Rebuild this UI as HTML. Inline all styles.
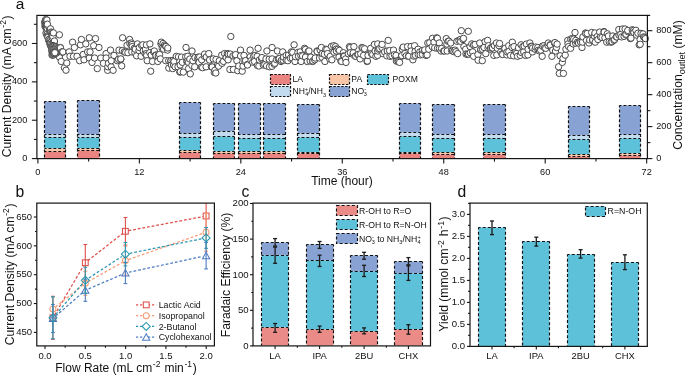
<!DOCTYPE html>
<html><head><meta charset="utf-8"><style>
html,body{margin:0;padding:0;background:#fff;}
svg{display:block;font-family:"Liberation Sans",sans-serif;will-change:transform;}
</style></head><body>
<svg width="685" height="375" viewBox="0 0 685 375">
<g fill="#fff" stroke="#484848" stroke-width="1.0">
<circle cx="44.9" cy="22.1" r="3.2"/>
<circle cx="44.9" cy="23.0" r="3.2"/>
<circle cx="45.0" cy="26.6" r="3.2"/>
<circle cx="45.1" cy="21.2" r="3.2"/>
<circle cx="45.2" cy="24.7" r="3.2"/>
<circle cx="45.5" cy="25.9" r="3.2"/>
<circle cx="45.7" cy="19.5" r="3.2"/>
<circle cx="45.9" cy="20.7" r="3.2"/>
<circle cx="46.0" cy="33.1" r="3.2"/>
<circle cx="46.3" cy="21.9" r="3.2"/>
<circle cx="46.3" cy="21.4" r="3.2"/>
<circle cx="46.4" cy="25.3" r="3.2"/>
<circle cx="46.5" cy="24.5" r="3.2"/>
<circle cx="46.5" cy="23.1" r="3.2"/>
<circle cx="46.6" cy="27.4" r="3.2"/>
<circle cx="46.9" cy="20.0" r="3.2"/>
<circle cx="46.9" cy="35.0" r="3.2"/>
<circle cx="47.0" cy="30.3" r="3.2"/>
<circle cx="47.0" cy="30.8" r="3.2"/>
<circle cx="47.1" cy="27.8" r="3.2"/>
<circle cx="47.2" cy="28.7" r="3.2"/>
<circle cx="47.2" cy="28.4" r="3.2"/>
<circle cx="47.3" cy="25.3" r="3.2"/>
<circle cx="47.3" cy="35.9" r="3.2"/>
<circle cx="47.4" cy="24.2" r="3.2"/>
<circle cx="47.9" cy="36.9" r="3.2"/>
<circle cx="47.9" cy="37.4" r="3.2"/>
<circle cx="48.7" cy="39.9" r="3.2"/>
<circle cx="48.8" cy="40.4" r="3.2"/>
<circle cx="48.9" cy="39.4" r="3.2"/>
<circle cx="49.5" cy="40.8" r="3.2"/>
<circle cx="49.7" cy="30.1" r="3.2"/>
<circle cx="49.9" cy="44.0" r="3.2"/>
<circle cx="50.1" cy="42.5" r="3.2"/>
<circle cx="50.2" cy="31.5" r="3.2"/>
<circle cx="50.2" cy="29.7" r="3.2"/>
<circle cx="50.5" cy="42.3" r="3.2"/>
<circle cx="50.5" cy="28.8" r="3.2"/>
<circle cx="50.6" cy="45.9" r="3.2"/>
<circle cx="50.7" cy="44.1" r="3.2"/>
<circle cx="51.0" cy="38.7" r="3.2"/>
<circle cx="51.0" cy="32.1" r="3.2"/>
<circle cx="51.6" cy="35.3" r="3.2"/>
<circle cx="51.6" cy="45.1" r="3.2"/>
<circle cx="51.7" cy="46.5" r="3.2"/>
<circle cx="52.0" cy="55.0" r="3.2"/>
<circle cx="52.0" cy="32.9" r="3.2"/>
<circle cx="52.1" cy="33.8" r="3.2"/>
<circle cx="52.1" cy="48.4" r="3.2"/>
<circle cx="52.3" cy="38.0" r="3.2"/>
<circle cx="52.3" cy="52.8" r="3.2"/>
<circle cx="52.6" cy="34.3" r="3.2"/>
<circle cx="52.7" cy="47.0" r="3.2"/>
<circle cx="52.8" cy="51.1" r="3.2"/>
<circle cx="52.8" cy="49.6" r="3.2"/>
<circle cx="52.9" cy="36.7" r="3.2"/>
<circle cx="53.1" cy="55.1" r="3.2"/>
<circle cx="53.4" cy="32.9" r="3.2"/>
<circle cx="53.5" cy="53.2" r="3.2"/>
<circle cx="53.5" cy="54.8" r="3.2"/>
<circle cx="53.7" cy="53.8" r="3.2"/>
<circle cx="54.0" cy="41.7" r="3.2"/>
<circle cx="54.1" cy="43.2" r="3.2"/>
<circle cx="54.2" cy="51.7" r="3.2"/>
<circle cx="54.3" cy="44.7" r="3.2"/>
<circle cx="54.4" cy="48.3" r="3.2"/>
<circle cx="54.4" cy="41.0" r="3.2"/>
<circle cx="55.4" cy="54.0" r="3.2"/>
<circle cx="55.7" cy="50.6" r="3.2"/>
<circle cx="56.5" cy="49.4" r="3.2"/>
<circle cx="56.6" cy="47.5" r="3.2"/>
<circle cx="56.6" cy="51.5" r="3.2"/>
<circle cx="59.4" cy="34.8" r="3.2"/>
<circle cx="59.4" cy="57.1" r="3.2"/>
<circle cx="60.3" cy="47.5" r="3.2"/>
<circle cx="60.4" cy="47.8" r="3.2"/>
<circle cx="61.2" cy="61.4" r="3.2"/>
<circle cx="62.0" cy="51.8" r="3.2"/>
<circle cx="62.4" cy="52.2" r="3.2"/>
<circle cx="62.9" cy="51.9" r="3.2"/>
<circle cx="64.4" cy="67.8" r="3.2"/>
<circle cx="66.0" cy="70.2" r="3.2"/>
<circle cx="66.8" cy="63.0" r="3.2"/>
<circle cx="69.1" cy="51.9" r="3.2"/>
<circle cx="70.0" cy="56.3" r="3.2"/>
<circle cx="72.6" cy="42.2" r="3.2"/>
<circle cx="73.5" cy="56.3" r="3.2"/>
<circle cx="74.4" cy="47.5" r="3.2"/>
<circle cx="77.0" cy="56.3" r="3.2"/>
<circle cx="79.6" cy="60.7" r="3.2"/>
<circle cx="80.5" cy="44.8" r="3.2"/>
<circle cx="81.4" cy="39.5" r="3.2"/>
<circle cx="83.2" cy="54.5" r="3.2"/>
<circle cx="84.0" cy="59.8" r="3.2"/>
<circle cx="85.8" cy="43.9" r="3.2"/>
<circle cx="87.6" cy="51.9" r="3.2"/>
<circle cx="89.3" cy="37.8" r="3.2"/>
<circle cx="89.3" cy="58.0" r="3.2"/>
<circle cx="90.0" cy="51.9" r="3.2"/>
<circle cx="92.0" cy="62.4" r="3.2"/>
<circle cx="93.7" cy="45.7" r="3.2"/>
<circle cx="94.6" cy="58.0" r="3.2"/>
<circle cx="95.5" cy="38.6" r="3.2"/>
<circle cx="97.3" cy="68.6" r="3.2"/>
<circle cx="99.0" cy="47.5" r="3.2"/>
<circle cx="100.8" cy="58.0" r="3.2"/>
<circle cx="103.4" cy="63.3" r="3.2"/>
<circle cx="106.1" cy="53.6" r="3.2"/>
<circle cx="106.1" cy="58.0" r="3.2"/>
<circle cx="107.6" cy="70.3" r="3.2"/>
<circle cx="107.8" cy="66.8" r="3.2"/>
<circle cx="108.5" cy="63.3" r="3.2"/>
<circle cx="110.5" cy="50.1" r="3.2"/>
<circle cx="111.1" cy="66.8" r="3.2"/>
<circle cx="111.3" cy="60.7" r="3.2"/>
<circle cx="113.1" cy="70.3" r="3.2"/>
<circle cx="114.0" cy="55.4" r="3.2"/>
<circle cx="117.3" cy="60.7" r="3.2"/>
<circle cx="118.5" cy="59.3" r="3.2"/>
<circle cx="119.0" cy="50.1" r="3.2"/>
<circle cx="120.8" cy="59.4" r="3.2"/>
<circle cx="120.8" cy="58.9" r="3.2"/>
<circle cx="121.7" cy="65.9" r="3.2"/>
<circle cx="122.3" cy="50.6" r="3.2"/>
<circle cx="122.6" cy="37.8" r="3.2"/>
<circle cx="124.3" cy="51.9" r="3.2"/>
<circle cx="125.6" cy="52.4" r="3.2"/>
<circle cx="127.0" cy="45.3" r="3.2"/>
<circle cx="127.9" cy="52.7" r="3.2"/>
<circle cx="129.6" cy="39.5" r="3.2"/>
<circle cx="129.9" cy="43.5" r="3.2"/>
<circle cx="131.4" cy="43.0" r="3.2"/>
<circle cx="131.8" cy="51.9" r="3.2"/>
<circle cx="132.0" cy="44.5" r="3.2"/>
<circle cx="132.3" cy="46.6" r="3.2"/>
<circle cx="134.3" cy="48.3" r="3.2"/>
<circle cx="134.9" cy="52.7" r="3.2"/>
<circle cx="135.3" cy="49.2" r="3.2"/>
<circle cx="136.6" cy="55.8" r="3.2"/>
<circle cx="137.5" cy="43.9" r="3.2"/>
<circle cx="139.0" cy="50.6" r="3.2"/>
<circle cx="139.3" cy="47.5" r="3.2"/>
<circle cx="141.1" cy="56.3" r="3.2"/>
<circle cx="141.6" cy="45.4" r="3.2"/>
<circle cx="142.8" cy="44.8" r="3.2"/>
<circle cx="143.2" cy="51.0" r="3.2"/>
<circle cx="145.0" cy="53.5" r="3.2"/>
<circle cx="145.5" cy="49.2" r="3.2"/>
<circle cx="146.3" cy="53.6" r="3.2"/>
<circle cx="146.4" cy="44.9" r="3.2"/>
<circle cx="146.7" cy="55.4" r="3.2"/>
<circle cx="147.2" cy="60.7" r="3.2"/>
<circle cx="149.8" cy="52.6" r="3.2"/>
<circle cx="149.9" cy="43.9" r="3.2"/>
<circle cx="150.7" cy="71.2" r="3.2"/>
<circle cx="151.2" cy="55.1" r="3.2"/>
<circle cx="152.5" cy="61.5" r="3.2"/>
<circle cx="153.7" cy="51.9" r="3.2"/>
<circle cx="154.3" cy="51.0" r="3.2"/>
<circle cx="155.8" cy="55.0" r="3.2"/>
<circle cx="156.0" cy="55.4" r="3.2"/>
<circle cx="157.8" cy="61.5" r="3.2"/>
<circle cx="158.3" cy="55.8" r="3.2"/>
<circle cx="159.5" cy="54.5" r="3.2"/>
<circle cx="160.4" cy="58.9" r="3.2"/>
<circle cx="161.0" cy="44.0" r="3.2"/>
<circle cx="161.3" cy="42.2" r="3.2"/>
<circle cx="162.2" cy="48.3" r="3.2"/>
<circle cx="163.0" cy="43.5" r="3.2"/>
<circle cx="163.6" cy="49.1" r="3.2"/>
<circle cx="164.5" cy="45.0" r="3.2"/>
<circle cx="165.4" cy="46.0" r="3.2"/>
<circle cx="165.7" cy="60.7" r="3.2"/>
<circle cx="166.0" cy="46.5" r="3.2"/>
<circle cx="167.5" cy="50.1" r="3.2"/>
<circle cx="167.8" cy="48.0" r="3.2"/>
<circle cx="168.7" cy="60.7" r="3.2"/>
<circle cx="168.8" cy="68.1" r="3.2"/>
<circle cx="170.7" cy="61.2" r="3.2"/>
<circle cx="171.0" cy="60.7" r="3.2"/>
<circle cx="171.4" cy="65.0" r="3.2"/>
<circle cx="172.7" cy="68.6" r="3.2"/>
<circle cx="173.1" cy="60.4" r="3.2"/>
<circle cx="173.6" cy="65.0" r="3.2"/>
<circle cx="174.0" cy="61.5" r="3.2"/>
<circle cx="175.1" cy="66.8" r="3.2"/>
<circle cx="176.3" cy="56.3" r="3.2"/>
<circle cx="178.0" cy="66.8" r="3.2"/>
<circle cx="178.5" cy="56.8" r="3.2"/>
<circle cx="179.8" cy="61.5" r="3.2"/>
<circle cx="179.8" cy="72.1" r="3.2"/>
<circle cx="180.2" cy="65.0" r="3.2"/>
<circle cx="180.4" cy="71.6" r="3.2"/>
<circle cx="181.5" cy="57.1" r="3.2"/>
<circle cx="182.3" cy="62.3" r="3.2"/>
<circle cx="183.3" cy="72.1" r="3.2"/>
<circle cx="185.7" cy="56.8" r="3.2"/>
<circle cx="186.0" cy="47.5" r="3.2"/>
<circle cx="186.8" cy="61.5" r="3.2"/>
<circle cx="187.3" cy="61.3" r="3.2"/>
<circle cx="187.7" cy="56.3" r="3.2"/>
<circle cx="188.5" cy="62.4" r="3.2"/>
<circle cx="188.6" cy="68.6" r="3.2"/>
<circle cx="189.8" cy="59.0" r="3.2"/>
<circle cx="190.3" cy="73.9" r="3.2"/>
<circle cx="191.9" cy="65.4" r="3.2"/>
<circle cx="192.0" cy="51.0" r="3.2"/>
<circle cx="192.9" cy="60.7" r="3.2"/>
<circle cx="194.7" cy="66.8" r="3.2"/>
<circle cx="195.0" cy="57.6" r="3.2"/>
<circle cx="197.8" cy="58.8" r="3.2"/>
<circle cx="198.2" cy="57.1" r="3.2"/>
<circle cx="199.1" cy="62.4" r="3.2"/>
<circle cx="199.7" cy="57.0" r="3.2"/>
<circle cx="201.4" cy="67.2" r="3.2"/>
<circle cx="201.7" cy="59.8" r="3.2"/>
<circle cx="202.6" cy="67.7" r="3.2"/>
<circle cx="204.4" cy="56.3" r="3.2"/>
<circle cx="204.6" cy="54.1" r="3.2"/>
<circle cx="206.1" cy="66.8" r="3.2"/>
<circle cx="206.3" cy="56.9" r="3.2"/>
<circle cx="208.8" cy="53.6" r="3.2"/>
<circle cx="209.6" cy="59.8" r="3.2"/>
<circle cx="209.6" cy="60.0" r="3.2"/>
<circle cx="211.4" cy="66.8" r="3.2"/>
<circle cx="212.2" cy="67.0" r="3.2"/>
<circle cx="213.2" cy="58.9" r="3.2"/>
<circle cx="214.3" cy="72.5" r="3.2"/>
<circle cx="214.9" cy="70.3" r="3.2"/>
<circle cx="215.8" cy="73.0" r="3.2"/>
<circle cx="216.0" cy="59.4" r="3.2"/>
<circle cx="217.6" cy="65.0" r="3.2"/>
<circle cx="218.6" cy="66.1" r="3.2"/>
<circle cx="219.3" cy="60.7" r="3.2"/>
<circle cx="221.7" cy="55.2" r="3.2"/>
<circle cx="222.0" cy="63.3" r="3.2"/>
<circle cx="223.5" cy="61.4" r="3.2"/>
<circle cx="224.6" cy="53.6" r="3.2"/>
<circle cx="226.2" cy="57.6" r="3.2"/>
<circle cx="227.3" cy="53.6" r="3.2"/>
<circle cx="228.1" cy="59.8" r="3.2"/>
<circle cx="228.3" cy="54.1" r="3.2"/>
<circle cx="229.9" cy="69.5" r="3.2"/>
<circle cx="230.3" cy="54.1" r="3.2"/>
<circle cx="230.8" cy="36.5" r="3.2"/>
<circle cx="233.0" cy="55.9" r="3.2"/>
<circle cx="233.4" cy="69.5" r="3.2"/>
<circle cx="235.2" cy="55.4" r="3.2"/>
<circle cx="235.6" cy="54.6" r="3.2"/>
<circle cx="236.9" cy="60.7" r="3.2"/>
<circle cx="237.8" cy="70.7" r="3.2"/>
<circle cx="238.7" cy="66.0" r="3.2"/>
<circle cx="240.5" cy="50.1" r="3.2"/>
<circle cx="240.6" cy="55.9" r="3.2"/>
<circle cx="242.2" cy="71.2" r="3.2"/>
<circle cx="243.0" cy="66.1" r="3.2"/>
<circle cx="244.0" cy="55.4" r="3.2"/>
<circle cx="244.9" cy="61.5" r="3.2"/>
<circle cx="245.6" cy="60.6" r="3.2"/>
<circle cx="247.4" cy="64.5" r="3.2"/>
<circle cx="247.5" cy="65.0" r="3.2"/>
<circle cx="250.1" cy="50.1" r="3.2"/>
<circle cx="250.2" cy="56.8" r="3.2"/>
<circle cx="251.0" cy="60.7" r="3.2"/>
<circle cx="252.7" cy="62.2" r="3.2"/>
<circle cx="253.7" cy="56.3" r="3.2"/>
<circle cx="254.5" cy="61.5" r="3.2"/>
<circle cx="255.0" cy="55.4" r="3.2"/>
<circle cx="257.2" cy="56.3" r="3.2"/>
<circle cx="257.4" cy="65.5" r="3.2"/>
<circle cx="258.1" cy="48.3" r="3.2"/>
<circle cx="258.9" cy="66.0" r="3.2"/>
<circle cx="259.4" cy="60.0" r="3.2"/>
<circle cx="261.6" cy="58.9" r="3.2"/>
<circle cx="261.9" cy="57.6" r="3.2"/>
<circle cx="263.3" cy="65.0" r="3.2"/>
<circle cx="264.8" cy="64.5" r="3.2"/>
<circle cx="266.0" cy="58.9" r="3.2"/>
<circle cx="266.6" cy="65.9" r="3.2"/>
<circle cx="266.9" cy="51.0" r="3.2"/>
<circle cx="269.2" cy="59.2" r="3.2"/>
<circle cx="269.5" cy="66.8" r="3.2"/>
<circle cx="272.0" cy="66.3" r="3.2"/>
<circle cx="272.1" cy="47.5" r="3.2"/>
<circle cx="272.1" cy="58.9" r="3.2"/>
<circle cx="274.2" cy="64.2" r="3.2"/>
<circle cx="274.8" cy="63.3" r="3.2"/>
<circle cx="276.5" cy="59.7" r="3.2"/>
<circle cx="277.4" cy="51.0" r="3.2"/>
<circle cx="278.3" cy="58.9" r="3.2"/>
<circle cx="279.3" cy="58.6" r="3.2"/>
<circle cx="281.0" cy="61.5" r="3.2"/>
<circle cx="281.4" cy="60.3" r="3.2"/>
<circle cx="282.7" cy="51.9" r="3.2"/>
<circle cx="283.2" cy="60.3" r="3.2"/>
<circle cx="283.6" cy="57.1" r="3.2"/>
<circle cx="286.2" cy="55.4" r="3.2"/>
<circle cx="286.3" cy="60.2" r="3.2"/>
<circle cx="287.9" cy="60.7" r="3.2"/>
<circle cx="288.6" cy="55.0" r="3.2"/>
<circle cx="290.4" cy="58.2" r="3.2"/>
<circle cx="291.4" cy="51.9" r="3.2"/>
<circle cx="292.3" cy="58.0" r="3.2"/>
<circle cx="292.7" cy="52.4" r="3.2"/>
<circle cx="294.1" cy="44.8" r="3.2"/>
<circle cx="295.0" cy="61.5" r="3.2"/>
<circle cx="295.5" cy="56.7" r="3.2"/>
<circle cx="297.9" cy="52.4" r="3.2"/>
<circle cx="298.5" cy="56.3" r="3.2"/>
<circle cx="300.2" cy="51.9" r="3.2"/>
<circle cx="300.9" cy="55.7" r="3.2"/>
<circle cx="301.1" cy="61.5" r="3.2"/>
<circle cx="302.6" cy="55.9" r="3.2"/>
<circle cx="304.6" cy="48.3" r="3.2"/>
<circle cx="305.4" cy="49.5" r="3.2"/>
<circle cx="305.5" cy="57.1" r="3.2"/>
<circle cx="307.3" cy="61.5" r="3.2"/>
<circle cx="308.2" cy="51.5" r="3.2"/>
<circle cx="309.0" cy="51.0" r="3.2"/>
<circle cx="310.1" cy="61.0" r="3.2"/>
<circle cx="310.8" cy="57.1" r="3.2"/>
<circle cx="312.6" cy="61.5" r="3.2"/>
<circle cx="312.9" cy="61.0" r="3.2"/>
<circle cx="314.7" cy="59.8" r="3.2"/>
<circle cx="315.2" cy="58.0" r="3.2"/>
<circle cx="317.0" cy="51.0" r="3.2"/>
<circle cx="317.2" cy="51.5" r="3.2"/>
<circle cx="319.6" cy="58.0" r="3.2"/>
<circle cx="320.1" cy="49.9" r="3.2"/>
<circle cx="321.4" cy="47.5" r="3.2"/>
<circle cx="322.1" cy="57.3" r="3.2"/>
<circle cx="322.3" cy="53.6" r="3.2"/>
<circle cx="324.3" cy="54.2" r="3.2"/>
<circle cx="324.9" cy="61.5" r="3.2"/>
<circle cx="325.8" cy="49.2" r="3.2"/>
<circle cx="326.9" cy="49.7" r="3.2"/>
<circle cx="327.5" cy="53.6" r="3.2"/>
<circle cx="329.7" cy="58.9" r="3.2"/>
<circle cx="330.2" cy="56.3" r="3.2"/>
<circle cx="331.5" cy="46.4" r="3.2"/>
<circle cx="331.9" cy="59.8" r="3.2"/>
<circle cx="333.7" cy="45.7" r="3.2"/>
<circle cx="334.0" cy="52.2" r="3.2"/>
<circle cx="335.5" cy="46.6" r="3.2"/>
<circle cx="336.3" cy="49.0" r="3.2"/>
<circle cx="336.3" cy="51.0" r="3.2"/>
<circle cx="338.1" cy="49.2" r="3.2"/>
<circle cx="339.0" cy="57.1" r="3.2"/>
<circle cx="339.4" cy="50.4" r="3.2"/>
<circle cx="340.9" cy="61.1" r="3.2"/>
<circle cx="341.6" cy="61.5" r="3.2"/>
<circle cx="343.4" cy="52.7" r="3.2"/>
<circle cx="343.6" cy="55.9" r="3.2"/>
<circle cx="344.3" cy="56.3" r="3.2"/>
<circle cx="345.6" cy="58.9" r="3.2"/>
<circle cx="346.0" cy="62.4" r="3.2"/>
<circle cx="348.3" cy="53.7" r="3.2"/>
<circle cx="349.5" cy="46.6" r="3.2"/>
<circle cx="350.2" cy="47.6" r="3.2"/>
<circle cx="350.4" cy="52.7" r="3.2"/>
<circle cx="353.1" cy="54.5" r="3.2"/>
<circle cx="353.2" cy="52.8" r="3.2"/>
<circle cx="353.9" cy="46.6" r="3.2"/>
<circle cx="355.3" cy="56.2" r="3.2"/>
<circle cx="355.7" cy="56.3" r="3.2"/>
<circle cx="357.7" cy="54.6" r="3.2"/>
<circle cx="358.3" cy="54.5" r="3.2"/>
<circle cx="360.1" cy="58.9" r="3.2"/>
<circle cx="360.7" cy="53.8" r="3.2"/>
<circle cx="361.9" cy="47.5" r="3.2"/>
<circle cx="362.8" cy="48.0" r="3.2"/>
<circle cx="363.6" cy="55.4" r="3.2"/>
<circle cx="364.6" cy="48.8" r="3.2"/>
<circle cx="367.1" cy="61.5" r="3.2"/>
<circle cx="367.4" cy="61.0" r="3.2"/>
<circle cx="368.0" cy="55.4" r="3.2"/>
<circle cx="370.3" cy="49.5" r="3.2"/>
<circle cx="370.7" cy="48.3" r="3.2"/>
<circle cx="371.5" cy="53.6" r="3.2"/>
<circle cx="372.7" cy="54.5" r="3.2"/>
<circle cx="374.4" cy="44.4" r="3.2"/>
<circle cx="375.1" cy="51.0" r="3.2"/>
<circle cx="375.9" cy="56.3" r="3.2"/>
<circle cx="377.6" cy="55.4" r="3.2"/>
<circle cx="377.7" cy="51.0" r="3.2"/>
<circle cx="377.7" cy="43.9" r="3.2"/>
<circle cx="378.6" cy="49.2" r="3.2"/>
<circle cx="379.7" cy="48.6" r="3.2"/>
<circle cx="382.0" cy="47.5" r="3.2"/>
<circle cx="382.1" cy="44.4" r="3.2"/>
<circle cx="382.9" cy="53.6" r="3.2"/>
<circle cx="384.6" cy="51.8" r="3.2"/>
<circle cx="386.8" cy="55.8" r="3.2"/>
<circle cx="387.3" cy="51.0" r="3.2"/>
<circle cx="388.2" cy="40.4" r="3.2"/>
<circle cx="389.6" cy="50.6" r="3.2"/>
<circle cx="390.0" cy="56.3" r="3.2"/>
<circle cx="391.9" cy="55.8" r="3.2"/>
<circle cx="393.5" cy="50.1" r="3.2"/>
<circle cx="394.4" cy="54.7" r="3.2"/>
<circle cx="396.1" cy="55.4" r="3.2"/>
<circle cx="396.4" cy="61.1" r="3.2"/>
<circle cx="397.9" cy="60.7" r="3.2"/>
<circle cx="398.4" cy="61.7" r="3.2"/>
<circle cx="399.6" cy="62.4" r="3.2"/>
<circle cx="401.4" cy="56.3" r="3.2"/>
<circle cx="401.8" cy="55.6" r="3.2"/>
<circle cx="402.3" cy="49.2" r="3.2"/>
<circle cx="403.2" cy="47.1" r="3.2"/>
<circle cx="404.9" cy="53.6" r="3.2"/>
<circle cx="406.3" cy="55.8" r="3.2"/>
<circle cx="407.6" cy="46.6" r="3.2"/>
<circle cx="408.5" cy="56.3" r="3.2"/>
<circle cx="408.8" cy="56.2" r="3.2"/>
<circle cx="411.1" cy="46.5" r="3.2"/>
<circle cx="411.1" cy="51.0" r="3.2"/>
<circle cx="412.9" cy="59.8" r="3.2"/>
<circle cx="413.8" cy="56.1" r="3.2"/>
<circle cx="414.6" cy="45.7" r="3.2"/>
<circle cx="415.1" cy="51.4" r="3.2"/>
<circle cx="415.5" cy="55.4" r="3.2"/>
<circle cx="418.1" cy="49.2" r="3.2"/>
<circle cx="418.2" cy="54.5" r="3.2"/>
<circle cx="419.9" cy="51.9" r="3.2"/>
<circle cx="420.2" cy="54.9" r="3.2"/>
<circle cx="422.4" cy="50.5" r="3.2"/>
<circle cx="422.5" cy="54.5" r="3.2"/>
<circle cx="424.3" cy="51.0" r="3.2"/>
<circle cx="424.7" cy="49.9" r="3.2"/>
<circle cx="426.1" cy="55.4" r="3.2"/>
<circle cx="427.1" cy="54.9" r="3.2"/>
<circle cx="427.8" cy="43.0" r="3.2"/>
<circle cx="428.7" cy="49.2" r="3.2"/>
<circle cx="429.7" cy="42.7" r="3.2"/>
<circle cx="432.2" cy="46.6" r="3.2"/>
<circle cx="432.5" cy="38.3" r="3.2"/>
<circle cx="434.0" cy="42.2" r="3.2"/>
<circle cx="434.7" cy="47.8" r="3.2"/>
<circle cx="436.6" cy="37.8" r="3.2"/>
<circle cx="437.4" cy="38.3" r="3.2"/>
<circle cx="437.5" cy="48.3" r="3.2"/>
<circle cx="439.3" cy="43.0" r="3.2"/>
<circle cx="439.4" cy="48.6" r="3.2"/>
<circle cx="441.0" cy="51.0" r="3.2"/>
<circle cx="441.6" cy="48.5" r="3.2"/>
<circle cx="443.7" cy="51.0" r="3.2"/>
<circle cx="444.4" cy="51.0" r="3.2"/>
<circle cx="446.3" cy="38.6" r="3.2"/>
<circle cx="446.9" cy="44.1" r="3.2"/>
<circle cx="447.2" cy="51.0" r="3.2"/>
<circle cx="448.1" cy="41.3" r="3.2"/>
<circle cx="448.9" cy="41.2" r="3.2"/>
<circle cx="450.7" cy="43.0" r="3.2"/>
<circle cx="451.6" cy="50.5" r="3.2"/>
<circle cx="452.5" cy="51.0" r="3.2"/>
<circle cx="453.9" cy="51.7" r="3.2"/>
<circle cx="455.1" cy="50.1" r="3.2"/>
<circle cx="456.0" cy="51.7" r="3.2"/>
<circle cx="456.9" cy="41.3" r="3.2"/>
<circle cx="457.7" cy="53.6" r="3.2"/>
<circle cx="458.9" cy="40.4" r="3.2"/>
<circle cx="460.4" cy="39.5" r="3.2"/>
<circle cx="460.7" cy="41.4" r="3.2"/>
<circle cx="461.3" cy="30.7" r="3.2"/>
<circle cx="463.0" cy="39.5" r="3.2"/>
<circle cx="463.5" cy="38.4" r="3.2"/>
<circle cx="463.9" cy="46.6" r="3.2"/>
<circle cx="465.7" cy="49.2" r="3.2"/>
<circle cx="466.0" cy="54.0" r="3.2"/>
<circle cx="467.4" cy="54.5" r="3.2"/>
<circle cx="468.3" cy="31.3" r="3.2"/>
<circle cx="468.5" cy="54.0" r="3.2"/>
<circle cx="470.1" cy="46.6" r="3.2"/>
<circle cx="470.3" cy="52.7" r="3.2"/>
<circle cx="471.8" cy="43.9" r="3.2"/>
<circle cx="472.7" cy="51.9" r="3.2"/>
<circle cx="473.6" cy="44.9" r="3.2"/>
<circle cx="473.6" cy="56.3" r="3.2"/>
<circle cx="475.1" cy="44.4" r="3.2"/>
<circle cx="477.9" cy="54.5" r="3.2"/>
<circle cx="478.1" cy="60.2" r="3.2"/>
<circle cx="479.7" cy="43.0" r="3.2"/>
<circle cx="480.6" cy="50.1" r="3.2"/>
<circle cx="480.8" cy="49.6" r="3.2"/>
<circle cx="482.3" cy="60.7" r="3.2"/>
<circle cx="482.6" cy="49.4" r="3.2"/>
<circle cx="484.1" cy="47.5" r="3.2"/>
<circle cx="485.1" cy="41.6" r="3.2"/>
<circle cx="485.8" cy="53.6" r="3.2"/>
<circle cx="487.6" cy="40.4" r="3.2"/>
<circle cx="488.0" cy="48.2" r="3.2"/>
<circle cx="488.5" cy="45.7" r="3.2"/>
<circle cx="490.2" cy="49.2" r="3.2"/>
<circle cx="490.6" cy="47.9" r="3.2"/>
<circle cx="492.0" cy="47.5" r="3.2"/>
<circle cx="492.5" cy="47.9" r="3.2"/>
<circle cx="493.8" cy="55.4" r="3.2"/>
<circle cx="494.4" cy="45.6" r="3.2"/>
<circle cx="496.4" cy="43.0" r="3.2"/>
<circle cx="496.8" cy="54.9" r="3.2"/>
<circle cx="497.3" cy="48.3" r="3.2"/>
<circle cx="499.0" cy="45.7" r="3.2"/>
<circle cx="499.6" cy="43.5" r="3.2"/>
<circle cx="500.8" cy="51.9" r="3.2"/>
<circle cx="501.9" cy="54.0" r="3.2"/>
<circle cx="502.6" cy="54.5" r="3.2"/>
<circle cx="504.3" cy="49.2" r="3.2"/>
<circle cx="504.9" cy="48.4" r="3.2"/>
<circle cx="506.8" cy="54.9" r="3.2"/>
<circle cx="507.0" cy="51.9" r="3.2"/>
<circle cx="508.7" cy="45.7" r="3.2"/>
<circle cx="508.8" cy="51.5" r="3.2"/>
<circle cx="510.5" cy="55.4" r="3.2"/>
<circle cx="512.0" cy="47.5" r="3.2"/>
<circle cx="512.3" cy="42.2" r="3.2"/>
<circle cx="513.6" cy="55.8" r="3.2"/>
<circle cx="514.0" cy="46.6" r="3.2"/>
<circle cx="515.8" cy="51.9" r="3.2"/>
<circle cx="516.7" cy="53.3" r="3.2"/>
<circle cx="517.5" cy="56.3" r="3.2"/>
<circle cx="518.5" cy="47.8" r="3.2"/>
<circle cx="520.2" cy="55.4" r="3.2"/>
<circle cx="521.1" cy="44.8" r="3.2"/>
<circle cx="521.5" cy="52.6" r="3.2"/>
<circle cx="522.8" cy="46.6" r="3.2"/>
<circle cx="523.7" cy="51.9" r="3.2"/>
<circle cx="524.1" cy="46.0" r="3.2"/>
<circle cx="525.5" cy="55.4" r="3.2"/>
<circle cx="526.4" cy="44.1" r="3.2"/>
<circle cx="527.9" cy="54.9" r="3.2"/>
<circle cx="528.1" cy="49.2" r="3.2"/>
<circle cx="529.9" cy="43.0" r="3.2"/>
<circle cx="531.1" cy="46.2" r="3.2"/>
<circle cx="531.6" cy="46.6" r="3.2"/>
<circle cx="532.5" cy="51.9" r="3.2"/>
<circle cx="532.6" cy="48.0" r="3.2"/>
<circle cx="535.1" cy="49.2" r="3.2"/>
<circle cx="535.7" cy="47.1" r="3.2"/>
<circle cx="537.8" cy="47.5" r="3.2"/>
<circle cx="538.2" cy="50.3" r="3.2"/>
<circle cx="539.5" cy="51.0" r="3.2"/>
<circle cx="540.7" cy="50.2" r="3.2"/>
<circle cx="542.2" cy="56.3" r="3.2"/>
<circle cx="542.4" cy="46.2" r="3.2"/>
<circle cx="543.9" cy="45.7" r="3.2"/>
<circle cx="544.7" cy="47.8" r="3.2"/>
<circle cx="545.7" cy="48.3" r="3.2"/>
<circle cx="547.9" cy="45.4" r="3.2"/>
<circle cx="548.3" cy="43.0" r="3.2"/>
<circle cx="550.1" cy="44.8" r="3.2"/>
<circle cx="550.3" cy="45.2" r="3.2"/>
<circle cx="551.9" cy="56.3" r="3.2"/>
<circle cx="552.7" cy="50.1" r="3.2"/>
<circle cx="554.5" cy="43.0" r="3.2"/>
<circle cx="554.9" cy="42.6" r="3.2"/>
<circle cx="555.5" cy="51.0" r="3.2"/>
<circle cx="556.5" cy="47.5" r="3.2"/>
<circle cx="557.1" cy="44.1" r="3.2"/>
<circle cx="558.6" cy="66.8" r="3.2"/>
<circle cx="559.3" cy="73.4" r="3.2"/>
<circle cx="560.1" cy="55.8" r="3.2"/>
<circle cx="562.3" cy="62.4" r="3.2"/>
<circle cx="563.0" cy="58.5" r="3.2"/>
<circle cx="563.4" cy="73.4" r="3.2"/>
<circle cx="565.2" cy="55.1" r="3.2"/>
<circle cx="565.9" cy="49.2" r="3.2"/>
<circle cx="567.7" cy="40.4" r="3.2"/>
<circle cx="568.0" cy="43.9" r="3.2"/>
<circle cx="568.6" cy="46.6" r="3.2"/>
<circle cx="570.6" cy="48.3" r="3.2"/>
<circle cx="570.8" cy="39.1" r="3.2"/>
<circle cx="572.3" cy="38.6" r="3.2"/>
<circle cx="573.2" cy="43.9" r="3.2"/>
<circle cx="573.7" cy="39.1" r="3.2"/>
<circle cx="575.0" cy="32.5" r="3.2"/>
<circle cx="575.6" cy="43.2" r="3.2"/>
<circle cx="575.8" cy="40.4" r="3.2"/>
<circle cx="577.5" cy="42.2" r="3.2"/>
<circle cx="578.5" cy="43.0" r="3.2"/>
<circle cx="580.2" cy="41.3" r="3.2"/>
<circle cx="580.7" cy="42.3" r="3.2"/>
<circle cx="582.0" cy="47.5" r="3.2"/>
<circle cx="582.5" cy="42.1" r="3.2"/>
<circle cx="582.9" cy="36.9" r="3.2"/>
<circle cx="585.5" cy="33.0" r="3.2"/>
<circle cx="585.7" cy="33.5" r="3.2"/>
<circle cx="586.4" cy="40.4" r="3.2"/>
<circle cx="587.2" cy="33.5" r="3.2"/>
<circle cx="589.0" cy="43.0" r="3.2"/>
<circle cx="589.7" cy="40.0" r="3.2"/>
<circle cx="591.7" cy="32.5" r="3.2"/>
<circle cx="592.6" cy="40.4" r="3.2"/>
<circle cx="592.7" cy="39.9" r="3.2"/>
<circle cx="594.3" cy="36.0" r="3.2"/>
<circle cx="594.9" cy="33.0" r="3.2"/>
<circle cx="595.2" cy="42.2" r="3.2"/>
<circle cx="597.3" cy="36.5" r="3.2"/>
<circle cx="597.9" cy="39.5" r="3.2"/>
<circle cx="599.7" cy="32.1" r="3.2"/>
<circle cx="600.5" cy="36.9" r="3.2"/>
<circle cx="602.0" cy="37.5" r="3.2"/>
<circle cx="604.0" cy="31.6" r="3.2"/>
<circle cx="604.2" cy="32.1" r="3.2"/>
<circle cx="604.9" cy="37.8" r="3.2"/>
<circle cx="606.7" cy="42.2" r="3.2"/>
<circle cx="607.3" cy="33.8" r="3.2"/>
<circle cx="608.4" cy="36.0" r="3.2"/>
<circle cx="609.2" cy="41.7" r="3.2"/>
<circle cx="611.1" cy="42.2" r="3.2"/>
<circle cx="612.0" cy="41.7" r="3.2"/>
<circle cx="612.8" cy="36.0" r="3.2"/>
<circle cx="614.0" cy="40.3" r="3.2"/>
<circle cx="614.6" cy="39.5" r="3.2"/>
<circle cx="616.3" cy="36.9" r="3.2"/>
<circle cx="616.8" cy="36.9" r="3.2"/>
<circle cx="618.8" cy="29.5" r="3.2"/>
<circle cx="619.0" cy="35.1" r="3.2"/>
<circle cx="620.7" cy="34.4" r="3.2"/>
<circle cx="621.6" cy="36.9" r="3.2"/>
<circle cx="622.5" cy="29.0" r="3.2"/>
<circle cx="624.1" cy="36.4" r="3.2"/>
<circle cx="625.1" cy="29.0" r="3.2"/>
<circle cx="625.9" cy="34.9" r="3.2"/>
<circle cx="626.0" cy="34.2" r="3.2"/>
<circle cx="627.8" cy="31.6" r="3.2"/>
<circle cx="627.8" cy="30.4" r="3.2"/>
<circle cx="630.4" cy="38.6" r="3.2"/>
<circle cx="631.0" cy="38.1" r="3.2"/>
<circle cx="632.2" cy="29.8" r="3.2"/>
<circle cx="633.6" cy="30.3" r="3.2"/>
<circle cx="633.9" cy="32.5" r="3.2"/>
<circle cx="635.9" cy="30.3" r="3.2"/>
<circle cx="636.6" cy="35.1" r="3.2"/>
<circle cx="637.9" cy="33.2" r="3.2"/>
<circle cx="639.2" cy="44.8" r="3.2"/>
<circle cx="640.1" cy="39.5" r="3.2"/>
<circle cx="640.2" cy="44.3" r="3.2"/>
<circle cx="641.0" cy="33.4" r="3.2"/>
<circle cx="643.0" cy="33.9" r="3.2"/>
<circle cx="643.6" cy="36.9" r="3.2"/>
<circle cx="644.6" cy="37.6" r="3.2"/>
<circle cx="645.4" cy="38.6" r="3.2"/>
<circle cx="53.2" cy="47.3" r="3.2"/>
<circle cx="53.4" cy="47.1" r="3.2"/>
<circle cx="54.3" cy="46.8" r="3.2"/>
<circle cx="53.4" cy="46.6" r="3.2"/>
<circle cx="53.4" cy="46.0" r="3.2"/>
<circle cx="52.8" cy="46.0" r="3.2"/>
<circle cx="53.0" cy="45.5" r="3.2"/>
<circle cx="52.8" cy="46.4" r="3.2"/>
<circle cx="53.7" cy="46.9" r="3.2"/>
<circle cx="54.1" cy="47.2" r="3.2"/>
<circle cx="53.5" cy="46.6" r="3.2"/>
<circle cx="52.6" cy="47.5" r="3.2"/>
<circle cx="53.1" cy="48.6" r="3.2"/>
<circle cx="52.2" cy="49.0" r="3.2"/>
<circle cx="52.2" cy="49.6" r="3.2"/>
<circle cx="52.0" cy="50.7" r="3.2"/>
<circle cx="52.0" cy="51.0" r="3.2"/>
<circle cx="52.5" cy="51.9" r="3.2"/>
<circle cx="53.0" cy="52.5" r="3.2"/>
<circle cx="53.6" cy="53.0" r="3.2"/>
<circle cx="53.4" cy="53.0" r="3.2"/>
<circle cx="54.2" cy="53.0" r="3.2"/>
<circle cx="54.1" cy="53.0" r="3.2"/>
<circle cx="54.8" cy="53.0" r="3.2"/>
<circle cx="55.1" cy="53.0" r="3.2"/>
<circle cx="55.3" cy="53.0" r="3.2"/>
<circle cx="54.6" cy="53.0" r="3.2"/>
<circle cx="55.6" cy="53.0" r="3.2"/>
<circle cx="56.0" cy="53.0" r="3.2"/>
<circle cx="56.5" cy="53.0" r="3.2"/>
<circle cx="56.4" cy="53.0" r="3.2"/>
<circle cx="55.7" cy="53.0" r="3.2"/>
<circle cx="54.9" cy="53.0" r="3.2"/>
<circle cx="54.9" cy="52.7" r="3.2"/>
</g>
<rect x="44.50" y="101.50" width="21.00" height="33.00" fill="#88A3D3"/>
<rect x="44.50" y="134.50" width="21.00" height="3.00" fill="#C2DBEF"/>
<rect x="44.50" y="137.50" width="21.00" height="11.00" fill="#5DC1D9"/>
<rect x="44.50" y="148.50" width="21.00" height="3.00" fill="#F9C5A7"/>
<rect x="44.50" y="151.50" width="21.00" height="7.00" fill="#E98481"/>
<path d="M44.50,101.50H65.50M44.50,134.50H65.50M44.50,137.50H65.50M44.50,148.50H65.50M44.50,151.50H65.50" fill="none" stroke="#111" stroke-width="1.2" stroke-dasharray="2.9,2.0" stroke-dashoffset="0.9"/>
<path d="M44.50,101.50V158.50M65.50,101.50V158.50" fill="none" stroke="#111" stroke-width="1.2" stroke-dasharray="2.9,2.0" stroke-dashoffset="0.9"/>
<rect x="77.50" y="100.50" width="22.00" height="34.00" fill="#88A3D3"/>
<rect x="77.50" y="134.50" width="22.00" height="3.00" fill="#C2DBEF"/>
<rect x="77.50" y="137.50" width="22.00" height="11.00" fill="#5DC1D9"/>
<rect x="77.50" y="148.50" width="22.00" height="2.00" fill="#F9C5A7"/>
<rect x="77.50" y="150.50" width="22.00" height="8.00" fill="#E98481"/>
<path d="M77.50,100.50H99.50M77.50,134.50H99.50M77.50,137.50H99.50M77.50,148.50H99.50M77.50,150.50H99.50" fill="none" stroke="#111" stroke-width="1.2" stroke-dasharray="2.9,2.0" stroke-dashoffset="0.9"/>
<path d="M77.50,100.50V158.50M99.50,100.50V158.50" fill="none" stroke="#111" stroke-width="1.2" stroke-dasharray="2.9,2.0" stroke-dashoffset="0.9"/>
<rect x="179.50" y="102.50" width="21.00" height="31.00" fill="#88A3D3"/>
<rect x="179.50" y="133.50" width="21.00" height="4.00" fill="#C2DBEF"/>
<rect x="179.50" y="137.50" width="21.00" height="13.00" fill="#5DC1D9"/>
<rect x="179.50" y="150.50" width="21.00" height="2.00" fill="#F9C5A7"/>
<rect x="179.50" y="152.50" width="21.00" height="6.00" fill="#E98481"/>
<path d="M179.50,102.50H200.50M179.50,133.50H200.50M179.50,137.50H200.50M179.50,150.50H200.50M179.50,152.50H200.50" fill="none" stroke="#111" stroke-width="1.2" stroke-dasharray="2.9,2.0" stroke-dashoffset="0.9"/>
<path d="M179.50,102.50V158.50M200.50,102.50V158.50" fill="none" stroke="#111" stroke-width="1.2" stroke-dasharray="2.9,2.0" stroke-dashoffset="0.9"/>
<rect x="213.50" y="103.50" width="21.00" height="28.00" fill="#88A3D3"/>
<rect x="213.50" y="131.50" width="21.00" height="5.00" fill="#C2DBEF"/>
<rect x="213.50" y="136.50" width="21.00" height="15.00" fill="#5DC1D9"/>
<rect x="213.50" y="151.50" width="21.00" height="2.00" fill="#F9C5A7"/>
<rect x="213.50" y="153.50" width="21.00" height="5.00" fill="#E98481"/>
<path d="M213.50,103.50H234.50M213.50,131.50H234.50M213.50,136.50H234.50M213.50,151.50H234.50M213.50,153.50H234.50" fill="none" stroke="#111" stroke-width="1.2" stroke-dasharray="2.9,2.0" stroke-dashoffset="0.9"/>
<path d="M213.50,103.50V158.50M234.50,103.50V158.50" fill="none" stroke="#111" stroke-width="1.2" stroke-dasharray="2.9,2.0" stroke-dashoffset="0.9"/>
<rect x="238.50" y="103.50" width="22.00" height="31.00" fill="#88A3D3"/>
<rect x="238.50" y="134.50" width="22.00" height="4.00" fill="#C2DBEF"/>
<rect x="238.50" y="138.50" width="22.00" height="13.00" fill="#5DC1D9"/>
<rect x="238.50" y="151.50" width="22.00" height="2.00" fill="#F9C5A7"/>
<rect x="238.50" y="153.50" width="22.00" height="5.00" fill="#E98481"/>
<path d="M238.50,103.50H260.50M238.50,134.50H260.50M238.50,138.50H260.50M238.50,151.50H260.50M238.50,153.50H260.50" fill="none" stroke="#111" stroke-width="1.2" stroke-dasharray="2.9,2.0" stroke-dashoffset="0.9"/>
<path d="M238.50,103.50V158.50M260.50,103.50V158.50" fill="none" stroke="#111" stroke-width="1.2" stroke-dasharray="2.9,2.0" stroke-dashoffset="0.9"/>
<rect x="263.50" y="103.50" width="22.00" height="31.00" fill="#88A3D3"/>
<rect x="263.50" y="134.50" width="22.00" height="4.00" fill="#C2DBEF"/>
<rect x="263.50" y="138.50" width="22.00" height="13.00" fill="#5DC1D9"/>
<rect x="263.50" y="151.50" width="22.00" height="2.00" fill="#F9C5A7"/>
<rect x="263.50" y="153.50" width="22.00" height="5.00" fill="#E98481"/>
<path d="M263.50,103.50H285.50M263.50,134.50H285.50M263.50,138.50H285.50M263.50,151.50H285.50M263.50,153.50H285.50" fill="none" stroke="#111" stroke-width="1.2" stroke-dasharray="2.9,2.0" stroke-dashoffset="0.9"/>
<path d="M263.50,103.50V158.50M285.50,103.50V158.50" fill="none" stroke="#111" stroke-width="1.2" stroke-dasharray="2.9,2.0" stroke-dashoffset="0.9"/>
<rect x="297.50" y="104.50" width="22.00" height="29.00" fill="#88A3D3"/>
<rect x="297.50" y="133.50" width="22.00" height="4.00" fill="#C2DBEF"/>
<rect x="297.50" y="137.50" width="22.00" height="15.00" fill="#5DC1D9"/>
<rect x="297.50" y="152.50" width="22.00" height="1.00" fill="#F9C5A7"/>
<rect x="297.50" y="153.50" width="22.00" height="5.00" fill="#E98481"/>
<path d="M297.50,104.50H319.50M297.50,133.50H319.50M297.50,137.50H319.50M297.50,152.50H319.50M297.50,153.50H319.50" fill="none" stroke="#111" stroke-width="1.2" stroke-dasharray="2.9,2.0" stroke-dashoffset="0.9"/>
<path d="M297.50,104.50V158.50M319.50,104.50V158.50" fill="none" stroke="#111" stroke-width="1.2" stroke-dasharray="2.9,2.0" stroke-dashoffset="0.9"/>
<rect x="399.50" y="103.50" width="21.00" height="29.00" fill="#88A3D3"/>
<rect x="399.50" y="132.50" width="21.00" height="4.00" fill="#C2DBEF"/>
<rect x="399.50" y="136.50" width="21.00" height="16.00" fill="#5DC1D9"/>
<rect x="399.50" y="152.50" width="21.00" height="1.00" fill="#F9C5A7"/>
<rect x="399.50" y="153.50" width="21.00" height="5.00" fill="#E98481"/>
<path d="M399.50,103.50H420.50M399.50,132.50H420.50M399.50,136.50H420.50M399.50,152.50H420.50M399.50,153.50H420.50" fill="none" stroke="#111" stroke-width="1.2" stroke-dasharray="2.9,2.0" stroke-dashoffset="0.9"/>
<path d="M399.50,103.50V158.50M420.50,103.50V158.50" fill="none" stroke="#111" stroke-width="1.2" stroke-dasharray="2.9,2.0" stroke-dashoffset="0.9"/>
<rect x="432.50" y="104.50" width="22.00" height="30.00" fill="#88A3D3"/>
<rect x="432.50" y="134.50" width="22.00" height="4.00" fill="#C2DBEF"/>
<rect x="432.50" y="138.50" width="22.00" height="14.00" fill="#5DC1D9"/>
<rect x="432.50" y="152.50" width="22.00" height="2.00" fill="#F9C5A7"/>
<rect x="432.50" y="154.50" width="22.00" height="4.00" fill="#E98481"/>
<path d="M432.50,104.50H454.50M432.50,134.50H454.50M432.50,138.50H454.50M432.50,152.50H454.50M432.50,154.50H454.50" fill="none" stroke="#111" stroke-width="1.2" stroke-dasharray="2.9,2.0" stroke-dashoffset="0.9"/>
<path d="M432.50,104.50V158.50M454.50,104.50V158.50" fill="none" stroke="#111" stroke-width="1.2" stroke-dasharray="2.9,2.0" stroke-dashoffset="0.9"/>
<rect x="483.50" y="104.50" width="22.00" height="30.00" fill="#88A3D3"/>
<rect x="483.50" y="134.50" width="22.00" height="4.00" fill="#C2DBEF"/>
<rect x="483.50" y="138.50" width="22.00" height="14.00" fill="#5DC1D9"/>
<rect x="483.50" y="152.50" width="22.00" height="2.00" fill="#F9C5A7"/>
<rect x="483.50" y="154.50" width="22.00" height="4.00" fill="#E98481"/>
<path d="M483.50,104.50H505.50M483.50,134.50H505.50M483.50,138.50H505.50M483.50,152.50H505.50M483.50,154.50H505.50" fill="none" stroke="#111" stroke-width="1.2" stroke-dasharray="2.9,2.0" stroke-dashoffset="0.9"/>
<path d="M483.50,104.50V158.50M505.50,104.50V158.50" fill="none" stroke="#111" stroke-width="1.2" stroke-dasharray="2.9,2.0" stroke-dashoffset="0.9"/>
<rect x="568.50" y="106.50" width="21.00" height="29.00" fill="#88A3D3"/>
<rect x="568.50" y="135.50" width="21.00" height="4.00" fill="#C2DBEF"/>
<rect x="568.50" y="139.50" width="21.00" height="15.00" fill="#5DC1D9"/>
<rect x="568.50" y="154.50" width="21.00" height="2.00" fill="#F9C5A7"/>
<rect x="568.50" y="156.50" width="21.00" height="2.00" fill="#E98481"/>
<path d="M568.50,106.50H589.50M568.50,135.50H589.50M568.50,139.50H589.50M568.50,154.50H589.50M568.50,156.50H589.50" fill="none" stroke="#111" stroke-width="1.2" stroke-dasharray="2.9,2.0" stroke-dashoffset="0.9"/>
<path d="M568.50,106.50V158.50M589.50,106.50V158.50" fill="none" stroke="#111" stroke-width="1.2" stroke-dasharray="2.9,2.0" stroke-dashoffset="0.9"/>
<rect x="619.50" y="105.50" width="21.00" height="29.00" fill="#88A3D3"/>
<rect x="619.50" y="134.50" width="21.00" height="4.00" fill="#C2DBEF"/>
<rect x="619.50" y="138.50" width="21.00" height="15.00" fill="#5DC1D9"/>
<rect x="619.50" y="153.50" width="21.00" height="2.00" fill="#F9C5A7"/>
<rect x="619.50" y="155.50" width="21.00" height="3.00" fill="#E98481"/>
<path d="M619.50,105.50H640.50M619.50,134.50H640.50M619.50,138.50H640.50M619.50,153.50H640.50M619.50,155.50H640.50" fill="none" stroke="#111" stroke-width="1.2" stroke-dasharray="2.9,2.0" stroke-dashoffset="0.9"/>
<path d="M619.50,105.50V158.50M640.50,105.50V158.50" fill="none" stroke="#111" stroke-width="1.2" stroke-dasharray="2.9,2.0" stroke-dashoffset="0.9"/>
<rect x="270.50" y="74.50" width="20.00" height="10.00" fill="#E98481" stroke="#111" stroke-width="1.2" stroke-dasharray="2.4,1.5"/>
<text x="292.50" y="82.20" font-size="8.6" text-anchor="start" fill="#111" >LA</text>
<rect x="329.50" y="74.50" width="20.00" height="10.00" fill="#F9C5A7" stroke="#111" stroke-width="1.2" stroke-dasharray="2.4,1.5"/>
<text x="351.30" y="82.20" font-size="8.6" text-anchor="start" fill="#111" >PA</text>
<rect x="367.50" y="74.50" width="21.00" height="10.00" fill="#5DC1D9" stroke="#111" stroke-width="1.2" stroke-dasharray="2.4,1.5"/>
<text x="392.50" y="82.20" font-size="8.6" text-anchor="start" fill="#111" >POXM</text>
<rect x="270.50" y="86.50" width="20.00" height="10.00" fill="#C2DBEF" stroke="#111" stroke-width="1.2" stroke-dasharray="2.4,1.5"/>
<text x="292.5" y="94.2" font-size="8.6" fill="#111">NH<tspan font-size="5.5" dy="-3.2">+</tspan><tspan font-size="5.5" dx="-3" dy="5.4">4</tspan><tspan dy="-2.2">/NH</tspan><tspan font-size="5.5" dy="2.4">3</tspan></text>
<rect x="329.50" y="86.50" width="20.00" height="10.00" fill="#88A3D3" stroke="#111" stroke-width="1.2" stroke-dasharray="2.4,1.5"/>
<text x="351.3" y="94.2" font-size="8.6" fill="#111">NO<tspan font-size="5.5" dy="-3.2">-</tspan><tspan font-size="5.5" dx="-2.2" dy="5.4">3</tspan></text>
<rect x="36.9" y="15.4" width="610.5" height="143.2" fill="none" stroke="#151515" stroke-width="1.2"/>
<line x1="647.40" y1="15.40" x2="650.20" y2="15.40" stroke="#151515" stroke-width="1.2" />
<line x1="31.90" y1="158.60" x2="36.90" y2="158.60" stroke="#151515" stroke-width="1.1" />
<text x="27.30" y="161.20" font-size="9.2" text-anchor="end" fill="#111" >0</text>
<line x1="33.90" y1="139.41" x2="36.90" y2="139.41" stroke="#151515" stroke-width="1.1" />
<line x1="31.90" y1="120.23" x2="36.90" y2="120.23" stroke="#151515" stroke-width="1.1" />
<text x="27.30" y="122.83" font-size="9.2" text-anchor="end" fill="#111" >200</text>
<line x1="33.90" y1="101.04" x2="36.90" y2="101.04" stroke="#151515" stroke-width="1.1" />
<line x1="31.90" y1="81.86" x2="36.90" y2="81.86" stroke="#151515" stroke-width="1.1" />
<text x="27.30" y="84.46" font-size="9.2" text-anchor="end" fill="#111" >400</text>
<line x1="33.90" y1="62.67" x2="36.90" y2="62.67" stroke="#151515" stroke-width="1.1" />
<line x1="31.90" y1="43.48" x2="36.90" y2="43.48" stroke="#151515" stroke-width="1.1" />
<text x="27.30" y="46.08" font-size="9.2" text-anchor="end" fill="#111" >600</text>
<line x1="33.90" y1="24.30" x2="36.90" y2="24.30" stroke="#151515" stroke-width="1.1" />
<line x1="647.40" y1="158.60" x2="652.40" y2="158.60" stroke="#151515" stroke-width="1.1" />
<text x="656.20" y="161.20" font-size="9.2" text-anchor="start" fill="#111" >0</text>
<line x1="647.40" y1="142.61" x2="650.40" y2="142.61" stroke="#151515" stroke-width="1.1" />
<line x1="647.40" y1="126.62" x2="652.40" y2="126.62" stroke="#151515" stroke-width="1.1" />
<text x="656.20" y="129.22" font-size="9.2" text-anchor="start" fill="#111" >200</text>
<line x1="647.40" y1="110.64" x2="650.40" y2="110.64" stroke="#151515" stroke-width="1.1" />
<line x1="647.40" y1="94.65" x2="652.40" y2="94.65" stroke="#151515" stroke-width="1.1" />
<text x="656.20" y="97.25" font-size="9.2" text-anchor="start" fill="#111" >400</text>
<line x1="647.40" y1="78.66" x2="650.40" y2="78.66" stroke="#151515" stroke-width="1.1" />
<line x1="647.40" y1="62.67" x2="652.40" y2="62.67" stroke="#151515" stroke-width="1.1" />
<text x="656.20" y="65.27" font-size="9.2" text-anchor="start" fill="#111" >600</text>
<line x1="647.40" y1="46.68" x2="650.40" y2="46.68" stroke="#151515" stroke-width="1.1" />
<line x1="647.40" y1="30.70" x2="652.40" y2="30.70" stroke="#151515" stroke-width="1.1" />
<text x="656.20" y="33.30" font-size="9.2" text-anchor="start" fill="#111" >800</text>
<line x1="37.90" y1="158.60" x2="37.90" y2="163.60" stroke="#151515" stroke-width="1.1" />
<text x="37.90" y="174.50" font-size="9.2" text-anchor="middle" fill="#111" >0</text>
<line x1="88.63" y1="158.60" x2="88.63" y2="161.60" stroke="#151515" stroke-width="1.1" />
<line x1="139.36" y1="158.60" x2="139.36" y2="163.60" stroke="#151515" stroke-width="1.1" />
<text x="139.36" y="174.50" font-size="9.2" text-anchor="middle" fill="#111" >12</text>
<line x1="190.09" y1="158.60" x2="190.09" y2="161.60" stroke="#151515" stroke-width="1.1" />
<line x1="240.82" y1="158.60" x2="240.82" y2="163.60" stroke="#151515" stroke-width="1.1" />
<text x="240.82" y="174.50" font-size="9.2" text-anchor="middle" fill="#111" >24</text>
<line x1="291.55" y1="158.60" x2="291.55" y2="161.60" stroke="#151515" stroke-width="1.1" />
<line x1="342.28" y1="158.60" x2="342.28" y2="163.60" stroke="#151515" stroke-width="1.1" />
<text x="342.28" y="174.50" font-size="9.2" text-anchor="middle" fill="#111" >36</text>
<line x1="393.01" y1="158.60" x2="393.01" y2="161.60" stroke="#151515" stroke-width="1.1" />
<line x1="443.74" y1="158.60" x2="443.74" y2="163.60" stroke="#151515" stroke-width="1.1" />
<text x="443.74" y="174.50" font-size="9.2" text-anchor="middle" fill="#111" >48</text>
<line x1="494.47" y1="158.60" x2="494.47" y2="161.60" stroke="#151515" stroke-width="1.1" />
<line x1="545.20" y1="158.60" x2="545.20" y2="163.60" stroke="#151515" stroke-width="1.1" />
<text x="545.20" y="174.50" font-size="9.2" text-anchor="middle" fill="#111" >60</text>
<line x1="595.93" y1="158.60" x2="595.93" y2="161.60" stroke="#151515" stroke-width="1.1" />
<line x1="646.66" y1="158.60" x2="646.66" y2="163.60" stroke="#151515" stroke-width="1.1" />
<text x="646.66" y="174.50" font-size="9.2" text-anchor="middle" fill="#111" >72</text>
<text x="342.00" y="184.90" font-size="12" text-anchor="middle" fill="#111" >Time (hour)</text>
<text transform="translate(10.6,86.3) rotate(-90)" font-size="12.15" text-anchor="middle" fill="#111">Current Density (mA cm<tspan font-size="8.5" dx="0.7" dy="-4.8">-2</tspan><tspan dx="0.7" dy="4.8">)</tspan></text>
<text transform="translate(682.3,85.0) rotate(-90)" font-size="12.15" text-anchor="middle" fill="#111">Concentration<tspan font-size="9.1" dy="2.2">outlet</tspan><tspan dy="-2.2"> (mM)</tspan></text>
<text x="15.80" y="8.70" font-size="15.5" text-anchor="start" fill="#111" >a</text>
<line x1="33.80" y1="332.40" x2="36.80" y2="332.40" stroke="#151515" stroke-width="1.1" />
<text x="32.10" y="335.10" font-size="9.5" text-anchor="end" fill="#111" >450</text>
<line x1="35.00" y1="317.98" x2="36.80" y2="317.98" stroke="#151515" stroke-width="1.1" />
<line x1="33.80" y1="303.55" x2="36.80" y2="303.55" stroke="#151515" stroke-width="1.1" />
<text x="32.10" y="306.25" font-size="9.5" text-anchor="end" fill="#111" >500</text>
<line x1="35.00" y1="289.12" x2="36.80" y2="289.12" stroke="#151515" stroke-width="1.1" />
<line x1="33.80" y1="274.70" x2="36.80" y2="274.70" stroke="#151515" stroke-width="1.1" />
<text x="32.10" y="277.40" font-size="9.5" text-anchor="end" fill="#111" >550</text>
<line x1="35.00" y1="260.27" x2="36.80" y2="260.27" stroke="#151515" stroke-width="1.1" />
<line x1="33.80" y1="245.85" x2="36.80" y2="245.85" stroke="#151515" stroke-width="1.1" />
<text x="32.10" y="248.55" font-size="9.5" text-anchor="end" fill="#111" >600</text>
<line x1="35.00" y1="231.43" x2="36.80" y2="231.43" stroke="#151515" stroke-width="1.1" />
<line x1="33.80" y1="217.00" x2="36.80" y2="217.00" stroke="#151515" stroke-width="1.1" />
<text x="32.10" y="219.70" font-size="9.5" text-anchor="end" fill="#111" >650</text>
<line x1="45.00" y1="345.90" x2="45.00" y2="348.90" stroke="#151515" stroke-width="1.1" />
<text x="45.00" y="358.60" font-size="9.5" text-anchor="middle" fill="#111" >0.0</text>
<line x1="65.15" y1="345.90" x2="65.15" y2="347.70" stroke="#151515" stroke-width="1.1" />
<line x1="85.30" y1="345.90" x2="85.30" y2="348.90" stroke="#151515" stroke-width="1.1" />
<text x="85.30" y="358.60" font-size="9.5" text-anchor="middle" fill="#111" >0.5</text>
<line x1="105.45" y1="345.90" x2="105.45" y2="347.70" stroke="#151515" stroke-width="1.1" />
<line x1="125.60" y1="345.90" x2="125.60" y2="348.90" stroke="#151515" stroke-width="1.1" />
<text x="125.60" y="358.60" font-size="9.5" text-anchor="middle" fill="#111" >1.0</text>
<line x1="145.75" y1="345.90" x2="145.75" y2="347.70" stroke="#151515" stroke-width="1.1" />
<line x1="165.90" y1="345.90" x2="165.90" y2="348.90" stroke="#151515" stroke-width="1.1" />
<text x="165.90" y="358.60" font-size="9.5" text-anchor="middle" fill="#111" >1.5</text>
<line x1="186.05" y1="345.90" x2="186.05" y2="347.70" stroke="#151515" stroke-width="1.1" />
<line x1="206.20" y1="345.90" x2="206.20" y2="348.90" stroke="#151515" stroke-width="1.1" />
<text x="206.20" y="358.60" font-size="9.5" text-anchor="middle" fill="#111" >2.0</text>
<text x="126" y="371.5" font-size="12" text-anchor="middle" fill="#111">Flow Rate (mL cm<tspan font-size="8.5" dx="0.7" dy="-4.8">-2</tspan><tspan dx="0.7" dy="4.8"> min</tspan><tspan font-size="8.5" dx="0.7" dy="-4.8">-1</tspan><tspan dx="0.7" dy="4.8">)</tspan></text>
<text transform="translate(14.2,274.4) rotate(-90)" font-size="12.15" text-anchor="middle" fill="#111">Current Density (mA cm<tspan font-size="8.5" dx="0.7" dy="-4.8">-2</tspan><tspan dx="0.7" dy="4.8">)</tspan></text>
<text x="15.50" y="196.80" font-size="15.7" text-anchor="start" fill="#111" >b</text>
<svg x="36.8" y="203.1" width="177.60000000000002" height="142.79999999999998" viewBox="36.8 203.1 177.60000000000002 142.79999999999998" overflow="hidden">
<path d="M54.52,315.04L83.68,265.46M87.82,260.73L122.88,233.27M128.54,230.70L202.96,216.60" fill="none" stroke="#DE4F4B" stroke-width="1.25" stroke-dasharray="2.8,1.9"/>
<line x1="52.90" y1="296.30" x2="52.90" y2="339.30" stroke="#DE4F4B" stroke-width="1.1" />
<line x1="51.00" y1="296.30" x2="54.80" y2="296.30" stroke="#DE4F4B" stroke-width="1.1" />
<line x1="51.00" y1="339.30" x2="54.80" y2="339.30" stroke="#DE4F4B" stroke-width="1.1" />
<line x1="85.30" y1="244.50" x2="85.30" y2="280.90" stroke="#DE4F4B" stroke-width="1.1" />
<line x1="83.40" y1="244.50" x2="87.20" y2="244.50" stroke="#DE4F4B" stroke-width="1.1" />
<line x1="83.40" y1="280.90" x2="87.20" y2="280.90" stroke="#DE4F4B" stroke-width="1.1" />
<line x1="125.40" y1="217.50" x2="125.40" y2="245.10" stroke="#DE4F4B" stroke-width="1.1" />
<line x1="123.50" y1="217.50" x2="127.30" y2="217.50" stroke="#DE4F4B" stroke-width="1.1" />
<line x1="123.50" y1="245.10" x2="127.30" y2="245.10" stroke="#DE4F4B" stroke-width="1.1" />
<line x1="206.10" y1="202.50" x2="206.10" y2="229.50" stroke="#DE4F4B" stroke-width="1.1" />
<line x1="204.20" y1="202.50" x2="208.00" y2="202.50" stroke="#DE4F4B" stroke-width="1.1" />
<line x1="204.20" y1="229.50" x2="208.00" y2="229.50" stroke="#DE4F4B" stroke-width="1.1" />
<rect x="50.00" y="314.90" width="5.8" height="5.8" fill="none" stroke="#DE4F4B" stroke-width="1.05"/>
<rect x="82.40" y="259.80" width="5.8" height="5.8" fill="none" stroke="#DE4F4B" stroke-width="1.05"/>
<rect x="122.50" y="228.40" width="5.8" height="5.8" fill="none" stroke="#DE4F4B" stroke-width="1.05"/>
<rect x="203.20" y="213.10" width="5.8" height="5.8" fill="none" stroke="#DE4F4B" stroke-width="1.05"/>
<path d="M55.49,306.95L82.71,285.35M88.17,281.67L122.53,262.23M128.51,259.51L202.99,233.39" fill="none" stroke="#F59D77" stroke-width="1.25" stroke-dasharray="2.8,1.9"/>
<line x1="52.90" y1="297.00" x2="52.90" y2="321.00" stroke="#F59D77" stroke-width="1.1" />
<line x1="51.00" y1="297.00" x2="54.80" y2="297.00" stroke="#F59D77" stroke-width="1.1" />
<line x1="51.00" y1="321.00" x2="54.80" y2="321.00" stroke="#F59D77" stroke-width="1.1" />
<line x1="85.30" y1="271.30" x2="85.30" y2="295.30" stroke="#F59D77" stroke-width="1.1" />
<line x1="83.40" y1="271.30" x2="87.20" y2="271.30" stroke="#F59D77" stroke-width="1.1" />
<line x1="83.40" y1="295.30" x2="87.20" y2="295.30" stroke="#F59D77" stroke-width="1.1" />
<line x1="125.40" y1="246.10" x2="125.40" y2="275.10" stroke="#F59D77" stroke-width="1.1" />
<line x1="123.50" y1="246.10" x2="127.30" y2="246.10" stroke="#F59D77" stroke-width="1.1" />
<line x1="123.50" y1="275.10" x2="127.30" y2="275.10" stroke="#F59D77" stroke-width="1.1" />
<line x1="206.10" y1="213.30" x2="206.10" y2="251.30" stroke="#F59D77" stroke-width="1.1" />
<line x1="204.20" y1="213.30" x2="208.00" y2="213.30" stroke="#F59D77" stroke-width="1.1" />
<line x1="204.20" y1="251.30" x2="208.00" y2="251.30" stroke="#F59D77" stroke-width="1.1" />
<circle cx="52.90" cy="309.00" r="3.0" fill="none" stroke="#F59D77" stroke-width="1.05"/>
<circle cx="85.30" cy="283.30" r="3.0" fill="none" stroke="#F59D77" stroke-width="1.05"/>
<circle cx="125.40" cy="260.60" r="3.0" fill="none" stroke="#F59D77" stroke-width="1.05"/>
<circle cx="206.10" cy="232.30" r="3.0" fill="none" stroke="#F59D77" stroke-width="1.05"/>
<path d="M55.62,316.14L82.58,292.66M88.61,288.87L122.09,274.43M128.92,272.25L202.58,256.45" fill="none" stroke="#4E7CC4" stroke-width="1.25" stroke-dasharray="2.8,1.9"/>
<line x1="52.90" y1="304.50" x2="52.90" y2="332.50" stroke="#4E7CC4" stroke-width="1.1" />
<line x1="51.00" y1="304.50" x2="54.80" y2="304.50" stroke="#4E7CC4" stroke-width="1.1" />
<line x1="51.00" y1="332.50" x2="54.80" y2="332.50" stroke="#4E7CC4" stroke-width="1.1" />
<line x1="85.30" y1="279.30" x2="85.30" y2="301.30" stroke="#4E7CC4" stroke-width="1.1" />
<line x1="83.40" y1="279.30" x2="87.20" y2="279.30" stroke="#4E7CC4" stroke-width="1.1" />
<line x1="83.40" y1="301.30" x2="87.20" y2="301.30" stroke="#4E7CC4" stroke-width="1.1" />
<line x1="125.40" y1="262.40" x2="125.40" y2="283.60" stroke="#4E7CC4" stroke-width="1.1" />
<line x1="123.50" y1="262.40" x2="127.30" y2="262.40" stroke="#4E7CC4" stroke-width="1.1" />
<line x1="123.50" y1="283.60" x2="127.30" y2="283.60" stroke="#4E7CC4" stroke-width="1.1" />
<line x1="206.10" y1="242.50" x2="206.10" y2="268.90" stroke="#4E7CC4" stroke-width="1.1" />
<line x1="204.20" y1="242.50" x2="208.00" y2="242.50" stroke="#4E7CC4" stroke-width="1.1" />
<line x1="204.20" y1="268.90" x2="208.00" y2="268.90" stroke="#4E7CC4" stroke-width="1.1" />
<path d="M49.30,321.50 L52.90,315.10 L56.50,321.50Z" fill="none" stroke="#4E7CC4" stroke-width="1.05"/>
<path d="M81.70,293.30 L85.30,286.90 L88.90,293.30Z" fill="none" stroke="#4E7CC4" stroke-width="1.05"/>
<path d="M121.80,276.00 L125.40,269.60 L129.00,276.00Z" fill="none" stroke="#4E7CC4" stroke-width="1.05"/>
<path d="M202.50,258.70 L206.10,252.30 L209.70,258.70Z" fill="none" stroke="#4E7CC4" stroke-width="1.05"/>
<path d="M55.71,314.55L82.49,283.55M88.90,277.95L121.80,256.55M129.61,253.35L201.89,238.75" fill="none" stroke="#2A97B0" stroke-width="1.25" stroke-dasharray="2.8,1.9"/>
<line x1="52.90" y1="296.80" x2="52.90" y2="338.80" stroke="#2A97B0" stroke-width="1.1" />
<line x1="51.00" y1="296.80" x2="54.80" y2="296.80" stroke="#2A97B0" stroke-width="1.1" />
<line x1="51.00" y1="338.80" x2="54.80" y2="338.80" stroke="#2A97B0" stroke-width="1.1" />
<line x1="85.30" y1="267.30" x2="85.30" y2="293.30" stroke="#2A97B0" stroke-width="1.1" />
<line x1="83.40" y1="267.30" x2="87.20" y2="267.30" stroke="#2A97B0" stroke-width="1.1" />
<line x1="83.40" y1="293.30" x2="87.20" y2="293.30" stroke="#2A97B0" stroke-width="1.1" />
<line x1="125.40" y1="242.50" x2="125.40" y2="265.90" stroke="#2A97B0" stroke-width="1.1" />
<line x1="123.50" y1="242.50" x2="127.30" y2="242.50" stroke="#2A97B0" stroke-width="1.1" />
<line x1="123.50" y1="265.90" x2="127.30" y2="265.90" stroke="#2A97B0" stroke-width="1.1" />
<line x1="206.10" y1="227.50" x2="206.10" y2="248.30" stroke="#2A97B0" stroke-width="1.1" />
<line x1="204.20" y1="227.50" x2="208.00" y2="227.50" stroke="#2A97B0" stroke-width="1.1" />
<line x1="204.20" y1="248.30" x2="208.00" y2="248.30" stroke="#2A97B0" stroke-width="1.1" />
<path d="M48.90,317.80 L52.90,313.80 L56.90,317.80 L52.90,321.80Z" fill="none" stroke="#2A97B0" stroke-width="1.05"/>
<path d="M81.30,280.30 L85.30,276.30 L89.30,280.30 L85.30,284.30Z" fill="none" stroke="#2A97B0" stroke-width="1.05"/>
<path d="M121.40,254.20 L125.40,250.20 L129.40,254.20 L125.40,258.20Z" fill="none" stroke="#2A97B0" stroke-width="1.05"/>
<path d="M202.10,237.90 L206.10,233.90 L210.10,237.90 L206.10,241.90Z" fill="none" stroke="#2A97B0" stroke-width="1.05"/>
</svg>
<rect x="36.8" y="203.1" width="177.60000000000002" height="142.79999999999998" fill="none" stroke="#151515" stroke-width="1.2"/>
<line x1="136.00" y1="304.90" x2="156.20" y2="304.90" stroke="#DE4F4B" stroke-width="1.1" stroke-dasharray="2.2,1.8"/>
<rect x="143.30" y="302.00" width="5.8" height="5.8" fill="#fff" stroke="#DE4F4B" stroke-width="1.05"/>
<text x="158.70" y="308.20" font-size="8.8" text-anchor="start" fill="#111" >Lactic Acid</text>
<line x1="136.00" y1="315.65" x2="156.20" y2="315.65" stroke="#F59D77" stroke-width="1.1" stroke-dasharray="2.2,1.8"/>
<circle cx="146.20" cy="315.65" r="3.0" fill="#fff" stroke="#F59D77" stroke-width="1.05"/>
<text x="158.70" y="318.95" font-size="8.8" text-anchor="start" fill="#111" >Isopropanol</text>
<line x1="136.00" y1="326.40" x2="156.20" y2="326.40" stroke="#2A97B0" stroke-width="1.1" stroke-dasharray="2.2,1.8"/>
<path d="M142.20,326.40 L146.20,322.40 L150.20,326.40 L146.20,330.40Z" fill="#fff" stroke="#2A97B0" stroke-width="1.05"/>
<text x="158.70" y="329.70" font-size="8.8" text-anchor="start" fill="#111" >2-Butanol</text>
<line x1="136.00" y1="337.15" x2="156.20" y2="337.15" stroke="#4E7CC4" stroke-width="1.1" stroke-dasharray="2.2,1.8"/>
<path d="M142.60,340.15 L146.20,333.75 L149.80,340.15Z" fill="#fff" stroke="#4E7CC4" stroke-width="1.05"/>
<text x="158.70" y="340.45" font-size="8.8" text-anchor="start" fill="#111" >Cyclohexanol</text>
<line x1="250.00" y1="345.90" x2="253.00" y2="345.90" stroke="#151515" stroke-width="1.1" />
<text x="248.60" y="348.80" font-size="9.6" text-anchor="end" fill="#111" >0</text>
<line x1="251.20" y1="328.10" x2="253.00" y2="328.10" stroke="#151515" stroke-width="1.1" />
<line x1="250.00" y1="310.30" x2="253.00" y2="310.30" stroke="#151515" stroke-width="1.1" />
<text x="248.60" y="313.20" font-size="9.6" text-anchor="end" fill="#111" >50</text>
<line x1="251.20" y1="292.50" x2="253.00" y2="292.50" stroke="#151515" stroke-width="1.1" />
<line x1="250.00" y1="274.70" x2="253.00" y2="274.70" stroke="#151515" stroke-width="1.1" />
<text x="248.60" y="277.60" font-size="9.6" text-anchor="end" fill="#111" >100</text>
<line x1="251.20" y1="256.90" x2="253.00" y2="256.90" stroke="#151515" stroke-width="1.1" />
<line x1="250.00" y1="239.10" x2="253.00" y2="239.10" stroke="#151515" stroke-width="1.1" />
<text x="248.60" y="242.00" font-size="9.6" text-anchor="end" fill="#111" >150</text>
<line x1="251.20" y1="221.30" x2="253.00" y2="221.30" stroke="#151515" stroke-width="1.1" />
<line x1="250.00" y1="203.50" x2="253.00" y2="203.50" stroke="#151515" stroke-width="1.1" />
<text x="248.60" y="206.40" font-size="9.6" text-anchor="end" fill="#111" >200</text>
<line x1="275.10" y1="345.90" x2="275.10" y2="348.90" stroke="#151515" stroke-width="1.1" />
<text x="275.10" y="358.60" font-size="9.4" text-anchor="middle" fill="#111" >LA</text>
<line x1="297.35" y1="345.90" x2="297.35" y2="347.70" stroke="#151515" stroke-width="1.1" />
<line x1="319.60" y1="345.90" x2="319.60" y2="348.90" stroke="#151515" stroke-width="1.1" />
<text x="319.60" y="358.60" font-size="9.4" text-anchor="middle" fill="#111" >IPA</text>
<line x1="341.85" y1="345.90" x2="341.85" y2="347.70" stroke="#151515" stroke-width="1.1" />
<line x1="364.10" y1="345.90" x2="364.10" y2="348.90" stroke="#151515" stroke-width="1.1" />
<text x="364.10" y="358.60" font-size="9.4" text-anchor="middle" fill="#111" >2BU</text>
<line x1="386.35" y1="345.90" x2="386.35" y2="347.70" stroke="#151515" stroke-width="1.1" />
<line x1="408.40" y1="345.90" x2="408.40" y2="348.90" stroke="#151515" stroke-width="1.1" />
<text x="408.40" y="358.60" font-size="9.4" text-anchor="middle" fill="#111" >CHX</text>
<rect x="261.50" y="242.50" width="27.00" height="13.00" fill="#88A3D3"/>
<rect x="261.50" y="255.50" width="27.00" height="72.00" fill="#5DC1D9"/>
<rect x="261.50" y="327.50" width="27.00" height="18.00" fill="#EB8B88"/>
<path d="M261.50,242.50H288.50M261.50,255.50H288.50M261.50,327.50H288.50" fill="none" stroke="#111" stroke-width="1.15" stroke-dasharray="3.0,2.1" stroke-dashoffset="0.9"/>
<path d="M261.50,242.50V345.50M288.50,242.50V345.50" fill="none" stroke="#111" stroke-width="1.15" stroke-dasharray="3.0,2.1" stroke-dashoffset="0.9"/>
<rect x="306.50" y="244.50" width="27.00" height="16.00" fill="#88A3D3"/>
<rect x="306.50" y="260.50" width="27.00" height="69.00" fill="#5DC1D9"/>
<rect x="306.50" y="329.50" width="27.00" height="16.00" fill="#EB8B88"/>
<path d="M306.50,244.50H333.50M306.50,260.50H333.50M306.50,329.50H333.50" fill="none" stroke="#111" stroke-width="1.15" stroke-dasharray="3.0,2.1" stroke-dashoffset="0.9"/>
<path d="M306.50,244.50V345.50M333.50,244.50V345.50" fill="none" stroke="#111" stroke-width="1.15" stroke-dasharray="3.0,2.1" stroke-dashoffset="0.9"/>
<rect x="350.50" y="255.50" width="27.00" height="16.00" fill="#88A3D3"/>
<rect x="350.50" y="271.50" width="27.00" height="60.00" fill="#5DC1D9"/>
<rect x="350.50" y="331.50" width="27.00" height="14.00" fill="#EB8B88"/>
<path d="M350.50,255.50H377.50M350.50,271.50H377.50M350.50,331.50H377.50" fill="none" stroke="#111" stroke-width="1.15" stroke-dasharray="3.0,2.1" stroke-dashoffset="0.9"/>
<path d="M350.50,255.50V345.50M377.50,255.50V345.50" fill="none" stroke="#111" stroke-width="1.15" stroke-dasharray="3.0,2.1" stroke-dashoffset="0.9"/>
<rect x="394.50" y="261.50" width="28.00" height="12.00" fill="#88A3D3"/>
<rect x="394.50" y="273.50" width="28.00" height="56.00" fill="#5DC1D9"/>
<rect x="394.50" y="329.50" width="28.00" height="16.00" fill="#EB8B88"/>
<path d="M394.50,261.50H422.50M394.50,273.50H422.50M394.50,329.50H422.50" fill="none" stroke="#111" stroke-width="1.15" stroke-dasharray="3.0,2.1" stroke-dashoffset="0.9"/>
<path d="M394.50,261.50V345.50M422.50,261.50V345.50" fill="none" stroke="#111" stroke-width="1.15" stroke-dasharray="3.0,2.1" stroke-dashoffset="0.9"/>
<line x1="275.10" y1="323.50" x2="275.10" y2="332.30" stroke="#1a1a1a" stroke-width="1.3" />
<line x1="273.10" y1="323.50" x2="277.10" y2="323.50" stroke="#1a1a1a" stroke-width="1.3" />
<line x1="273.10" y1="332.30" x2="277.10" y2="332.30" stroke="#1a1a1a" stroke-width="1.3" />
<line x1="275.10" y1="247.10" x2="275.10" y2="263.30" stroke="#1a1a1a" stroke-width="1.3" />
<line x1="273.10" y1="247.10" x2="277.10" y2="247.10" stroke="#1a1a1a" stroke-width="1.3" />
<line x1="273.10" y1="263.30" x2="277.10" y2="263.30" stroke="#1a1a1a" stroke-width="1.3" />
<line x1="275.10" y1="238.60" x2="275.10" y2="246.10" stroke="#1a1a1a" stroke-width="1.3" />
<line x1="273.10" y1="238.60" x2="277.10" y2="238.60" stroke="#1a1a1a" stroke-width="1.3" />
<line x1="273.10" y1="246.10" x2="277.10" y2="246.10" stroke="#1a1a1a" stroke-width="1.3" />
<line x1="319.60" y1="326.10" x2="319.60" y2="332.30" stroke="#1a1a1a" stroke-width="1.3" />
<line x1="317.60" y1="326.10" x2="321.60" y2="326.10" stroke="#1a1a1a" stroke-width="1.3" />
<line x1="317.60" y1="332.30" x2="321.60" y2="332.30" stroke="#1a1a1a" stroke-width="1.3" />
<line x1="319.60" y1="255.20" x2="319.60" y2="266.50" stroke="#1a1a1a" stroke-width="1.3" />
<line x1="317.60" y1="255.20" x2="321.60" y2="255.20" stroke="#1a1a1a" stroke-width="1.3" />
<line x1="317.60" y1="266.50" x2="321.60" y2="266.50" stroke="#1a1a1a" stroke-width="1.3" />
<line x1="319.60" y1="241.50" x2="319.60" y2="248.40" stroke="#1a1a1a" stroke-width="1.3" />
<line x1="317.60" y1="241.50" x2="321.60" y2="241.50" stroke="#1a1a1a" stroke-width="1.3" />
<line x1="317.60" y1="248.40" x2="321.60" y2="248.40" stroke="#1a1a1a" stroke-width="1.3" />
<line x1="364.10" y1="327.90" x2="364.10" y2="333.80" stroke="#1a1a1a" stroke-width="1.3" />
<line x1="362.10" y1="327.90" x2="366.10" y2="327.90" stroke="#1a1a1a" stroke-width="1.3" />
<line x1="362.10" y1="333.80" x2="366.10" y2="333.80" stroke="#1a1a1a" stroke-width="1.3" />
<line x1="364.10" y1="265.30" x2="364.10" y2="276.50" stroke="#1a1a1a" stroke-width="1.3" />
<line x1="362.10" y1="265.30" x2="366.10" y2="265.30" stroke="#1a1a1a" stroke-width="1.3" />
<line x1="362.10" y1="276.50" x2="366.10" y2="276.50" stroke="#1a1a1a" stroke-width="1.3" />
<line x1="364.10" y1="252.30" x2="364.10" y2="259.20" stroke="#1a1a1a" stroke-width="1.3" />
<line x1="362.10" y1="252.30" x2="366.10" y2="252.30" stroke="#1a1a1a" stroke-width="1.3" />
<line x1="362.10" y1="259.20" x2="366.10" y2="259.20" stroke="#1a1a1a" stroke-width="1.3" />
<line x1="408.40" y1="324.70" x2="408.40" y2="334.20" stroke="#1a1a1a" stroke-width="1.3" />
<line x1="406.40" y1="324.70" x2="410.40" y2="324.70" stroke="#1a1a1a" stroke-width="1.3" />
<line x1="406.40" y1="334.20" x2="410.40" y2="334.20" stroke="#1a1a1a" stroke-width="1.3" />
<line x1="408.40" y1="265.80" x2="408.40" y2="280.40" stroke="#1a1a1a" stroke-width="1.3" />
<line x1="406.40" y1="265.80" x2="410.40" y2="265.80" stroke="#1a1a1a" stroke-width="1.3" />
<line x1="406.40" y1="280.40" x2="410.40" y2="280.40" stroke="#1a1a1a" stroke-width="1.3" />
<line x1="408.40" y1="257.60" x2="408.40" y2="264.80" stroke="#1a1a1a" stroke-width="1.3" />
<line x1="406.40" y1="257.60" x2="410.40" y2="257.60" stroke="#1a1a1a" stroke-width="1.3" />
<line x1="406.40" y1="264.80" x2="410.40" y2="264.80" stroke="#1a1a1a" stroke-width="1.3" />
<rect x="253.0" y="203.1" width="177.5" height="142.79999999999998" fill="none" stroke="#151515" stroke-width="1.2"/>
<rect x="336.50" y="205.50" width="21.00" height="10.00" fill="#EB8B88" stroke="#111" stroke-width="1.15" stroke-dasharray="3.0,2.1"/>
<text x="359.00" y="213.60" font-size="8.7" text-anchor="start" fill="#111" >R-OH to R=O</text>
<rect x="336.50" y="219.50" width="21.00" height="10.00" fill="#5DC1D9" stroke="#111" stroke-width="1.15" stroke-dasharray="3.0,2.1"/>
<text x="359.00" y="227.70" font-size="8.7" text-anchor="start" fill="#111" >R-OH to R=N-OH</text>
<rect x="336.50" y="233.50" width="21.00" height="10.00" fill="#88A3D3" stroke="#111" stroke-width="1.15" stroke-dasharray="3.0,2.1"/>
<text x="359" y="241.9" font-size="8.7" fill="#111">NO<tspan font-size="5.5" dy="-3.2">-</tspan><tspan font-size="5.5" dx="-2.2" dy="5.4">3</tspan><tspan dy="-2.2"> to NH</tspan><tspan font-size="5.5" dy="2.4">3</tspan><tspan dy="-2.4">/NH</tspan><tspan font-size="5.5" dy="-3.2">+</tspan><tspan font-size="5.5" dx="-3" dy="5.4">4</tspan></text>
<text transform="translate(230.3,274.9) rotate(-90)" font-size="12.15" text-anchor="middle" fill="#111">Faradaic Efficiency (%)</text>
<text x="241.50" y="197.00" font-size="15.7" text-anchor="start" fill="#111" >c</text>
<line x1="467.00" y1="346.40" x2="470.00" y2="346.40" stroke="#151515" stroke-width="1.1" />
<text x="465.00" y="349.30" font-size="9.6" text-anchor="end" fill="#111" >0.0</text>
<line x1="468.20" y1="335.40" x2="470.00" y2="335.40" stroke="#151515" stroke-width="1.1" />
<line x1="467.00" y1="324.40" x2="470.00" y2="324.40" stroke="#151515" stroke-width="1.1" />
<text x="465.00" y="327.30" font-size="9.6" text-anchor="end" fill="#111" >0.5</text>
<line x1="468.20" y1="313.40" x2="470.00" y2="313.40" stroke="#151515" stroke-width="1.1" />
<line x1="467.00" y1="302.40" x2="470.00" y2="302.40" stroke="#151515" stroke-width="1.1" />
<text x="465.00" y="305.30" font-size="9.6" text-anchor="end" fill="#111" >1.0</text>
<line x1="468.20" y1="291.40" x2="470.00" y2="291.40" stroke="#151515" stroke-width="1.1" />
<line x1="467.00" y1="280.40" x2="470.00" y2="280.40" stroke="#151515" stroke-width="1.1" />
<text x="465.00" y="283.30" font-size="9.6" text-anchor="end" fill="#111" >1.5</text>
<line x1="468.20" y1="269.40" x2="470.00" y2="269.40" stroke="#151515" stroke-width="1.1" />
<line x1="467.00" y1="258.40" x2="470.00" y2="258.40" stroke="#151515" stroke-width="1.1" />
<text x="465.00" y="261.30" font-size="9.6" text-anchor="end" fill="#111" >2.0</text>
<line x1="468.20" y1="247.40" x2="470.00" y2="247.40" stroke="#151515" stroke-width="1.1" />
<line x1="467.00" y1="236.40" x2="470.00" y2="236.40" stroke="#151515" stroke-width="1.1" />
<text x="465.00" y="239.30" font-size="9.6" text-anchor="end" fill="#111" >2.5</text>
<line x1="468.20" y1="225.40" x2="470.00" y2="225.40" stroke="#151515" stroke-width="1.1" />
<line x1="467.00" y1="214.40" x2="470.00" y2="214.40" stroke="#151515" stroke-width="1.1" />
<text x="465.00" y="217.30" font-size="9.6" text-anchor="end" fill="#111" >3.0</text>
<line x1="468.20" y1="203.40" x2="470.00" y2="203.40" stroke="#151515" stroke-width="1.1" />
<line x1="492.00" y1="346.40" x2="492.00" y2="349.40" stroke="#151515" stroke-width="1.1" />
<text x="492.00" y="358.60" font-size="9.4" text-anchor="middle" fill="#111" >LA</text>
<line x1="514.10" y1="346.40" x2="514.10" y2="348.20" stroke="#151515" stroke-width="1.1" />
<rect x="478.50" y="227.50" width="27.00" height="119.00" fill="#5DC1D9"/>
<path d="M478.50,227.50H505.50" fill="none" stroke="#111" stroke-width="1.15" stroke-dasharray="3.0,2.1" stroke-dashoffset="0.9"/>
<path d="M478.50,227.50V346.50M505.50,227.50V346.50" fill="none" stroke="#111" stroke-width="1.15" stroke-dasharray="3.0,2.1" stroke-dashoffset="0.9"/>
<line x1="492.00" y1="221.00" x2="492.00" y2="234.60" stroke="#1a1a1a" stroke-width="1.3" />
<line x1="490.00" y1="221.00" x2="494.00" y2="221.00" stroke="#1a1a1a" stroke-width="1.3" />
<line x1="490.00" y1="234.60" x2="494.00" y2="234.60" stroke="#1a1a1a" stroke-width="1.3" />
<line x1="536.30" y1="346.40" x2="536.30" y2="349.40" stroke="#151515" stroke-width="1.1" />
<text x="536.30" y="358.60" font-size="9.4" text-anchor="middle" fill="#111" >IPA</text>
<line x1="558.40" y1="346.40" x2="558.40" y2="348.20" stroke="#151515" stroke-width="1.1" />
<rect x="522.50" y="241.50" width="27.00" height="105.00" fill="#5DC1D9"/>
<path d="M522.50,241.50H549.50" fill="none" stroke="#111" stroke-width="1.15" stroke-dasharray="3.0,2.1" stroke-dashoffset="0.9"/>
<path d="M522.50,241.50V346.50M549.50,241.50V346.50" fill="none" stroke="#111" stroke-width="1.15" stroke-dasharray="3.0,2.1" stroke-dashoffset="0.9"/>
<line x1="536.30" y1="237.20" x2="536.30" y2="246.10" stroke="#1a1a1a" stroke-width="1.3" />
<line x1="534.30" y1="237.20" x2="538.30" y2="237.20" stroke="#1a1a1a" stroke-width="1.3" />
<line x1="534.30" y1="246.10" x2="538.30" y2="246.10" stroke="#1a1a1a" stroke-width="1.3" />
<line x1="580.60" y1="346.40" x2="580.60" y2="349.40" stroke="#151515" stroke-width="1.1" />
<text x="580.60" y="358.60" font-size="9.4" text-anchor="middle" fill="#111" >2BU</text>
<line x1="602.70" y1="346.40" x2="602.70" y2="348.20" stroke="#151515" stroke-width="1.1" />
<rect x="567.50" y="254.50" width="27.00" height="92.00" fill="#5DC1D9"/>
<path d="M567.50,254.50H594.50" fill="none" stroke="#111" stroke-width="1.15" stroke-dasharray="3.0,2.1" stroke-dashoffset="0.9"/>
<path d="M567.50,254.50V346.50M594.50,254.50V346.50" fill="none" stroke="#111" stroke-width="1.15" stroke-dasharray="3.0,2.1" stroke-dashoffset="0.9"/>
<line x1="580.60" y1="249.70" x2="580.60" y2="258.10" stroke="#1a1a1a" stroke-width="1.3" />
<line x1="578.60" y1="249.70" x2="582.60" y2="249.70" stroke="#1a1a1a" stroke-width="1.3" />
<line x1="578.60" y1="258.10" x2="582.60" y2="258.10" stroke="#1a1a1a" stroke-width="1.3" />
<line x1="624.90" y1="346.40" x2="624.90" y2="349.40" stroke="#151515" stroke-width="1.1" />
<text x="624.90" y="358.60" font-size="9.4" text-anchor="middle" fill="#111" >CHX</text>
<rect x="611.50" y="262.50" width="27.00" height="84.00" fill="#5DC1D9"/>
<path d="M611.50,262.50H638.50" fill="none" stroke="#111" stroke-width="1.15" stroke-dasharray="3.0,2.1" stroke-dashoffset="0.9"/>
<path d="M611.50,262.50V346.50M638.50,262.50V346.50" fill="none" stroke="#111" stroke-width="1.15" stroke-dasharray="3.0,2.1" stroke-dashoffset="0.9"/>
<line x1="624.90" y1="254.80" x2="624.90" y2="269.60" stroke="#1a1a1a" stroke-width="1.3" />
<line x1="622.90" y1="254.80" x2="626.90" y2="254.80" stroke="#1a1a1a" stroke-width="1.3" />
<line x1="622.90" y1="269.60" x2="626.90" y2="269.60" stroke="#1a1a1a" stroke-width="1.3" />
<rect x="470.0" y="203.1" width="177.29999999999995" height="143.29999999999998" fill="none" stroke="#151515" stroke-width="1.2"/>
<rect x="585.50" y="206.50" width="20.00" height="10.00" fill="#5DC1D9" stroke="#111" stroke-width="1.15" stroke-dasharray="3.0,2.1"/>
<text x="607.60" y="213.90" font-size="8.8" text-anchor="start" fill="#111" >R=N-OH</text>
<text transform="translate(448.4,274.0) rotate(-90)" font-size="12.15" text-anchor="middle" fill="#111">Yield (mmol cm<tspan font-size="8.5" dx="0.7" dy="-4.8">-2</tspan><tspan dx="0.7" dy="4.8"> h</tspan><tspan font-size="8.5" dx="0.7" dy="-4.8">-1</tspan><tspan dx="0.7" dy="4.8">)</tspan></text>
<text x="457.40" y="196.80" font-size="15.7" text-anchor="start" fill="#111" >d</text>
</svg>
</body></html>
